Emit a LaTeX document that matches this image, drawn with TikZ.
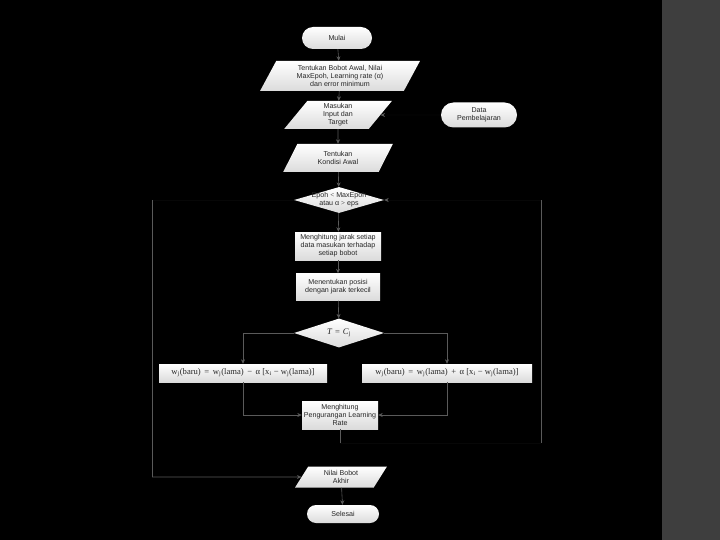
\documentclass[tikz,border=0pt]{standalone}
\usepackage{fontspec}
\setmainfont{Liberation Sans}
\newfontfamily\serifm{Liberation Serif}
\usetikzlibrary{shapes.geometric,shapes.misc,arrows.meta}
\definecolor{linegray}{HTML}{5A5A5A}
\definecolor{hidegray}{HTML}{070707}
\definecolor{stripgray}{HTML}{3E3E3E}
\begin{document}
\begin{tikzpicture}[x=1pt,y=-1pt,
  box/.style={draw=none, top color=white, bottom color=black!14, text=black!85,
    font=\fontsize{7.1}{7.9}\selectfont, align=center, inner sep=1pt},
  term/.style={box, rounded rectangle},
  rectbox/.style={box, rectangle},
  iobox/.style={box, trapezium, trapezium left angle=64, trapezium right angle=116,
    trapezium stretches=true},
  decbox/.style={box, diamond, inner sep=0pt},
  dtext/.style={font=\fontsize{7.1}{7.9}\selectfont, text=black!85, align=center, inner sep=0pt},
  formula/.style={font=\serifm\fontsize{8.6}{9}\selectfont},
  conn/.style={draw=linegray, line width=0.6pt},
  hid/.style={draw=hidegray, line width=0.6pt},
  tip/.style={-{Stealth[length=4.5pt,width=4pt,color=linegray]}}
]
\useasboundingbox (0,0) rectangle (720,540);
\fill[black] (0,0) rectangle (662,540);
\fill[stripgray] (662,0) rectangle (720,540);

% nodes
\node[term, minimum width=72pt, minimum height=22pt] (mulai) at (337,38) {Mulai};
\node[iobox, minimum width=160pt, minimum height=30pt] (bobot) at (340,76)
  {Tentukan Bobot Awal, Nilai\\MaxEpoh, Learning rate (α)\\dan error minimum};
\node[iobox, minimum width=108pt, minimum height=28pt] (masukan) at (338,115)
  {Masukan\\Input dan\\Target};
\node[term, minimum width=78pt, minimum height=25pt] (data) at (479,115)
  {Data\\Pembelajaran};
\node[iobox, minimum width=110pt, minimum height=28pt] (kondisi) at (338,158)
  {Tentukan\\Kondisi Awal};
\node[decbox, minimum width=90pt, minimum height=26pt] (cek) at (339,200) {};
\node[dtext] (cektxt) at (cek) {Epoh {\serifm<} MaxEpoh\\atau α {\serifm>} eps};
\node[rectbox, minimum width=86pt, minimum height=28pt] (jarak) at (338,246)
  {Menghitung jarak setiap\\data masukan terhadap\\setiap bobot};
\node[rectbox, minimum width=84pt, minimum height=27pt] (posisi) at (338,287)
  {Menentukan posisi\\dengan jarak terkecil};
\node[decbox, minimum width=90pt, minimum height=29pt] (cond) at (339,333) {};
\node[dtext, formula] (condtxt) at (cond) {\textit{T}\,\,=\,\,\textit{C}\textsubscript{j}};
\node[rectbox, formula, minimum width=168pt, minimum height=18pt] (kiri) at (243,373)
  {w\textsubscript{j}(baru) \,=\, w\textsubscript{j}(lama) \,−\, α [x\textsubscript{i} − w\textsubscript{j}(lama)]};
\node[rectbox, formula, minimum width=170pt, minimum height=18pt] (kanan) at (447,373)
  {w\textsubscript{j}(baru) \,=\, w\textsubscript{j}(lama) \,+\, α [x\textsubscript{i} − w\textsubscript{j}(lama)]};
\node[rectbox, minimum width=76pt, minimum height=28pt] (kurang) at (340,415)
  {Menghitung\\Pengurangan Learning\\Rate};
\node[iobox, minimum width=92pt, minimum height=21pt] (akhir) at (341,477)
  {Nilai Bobot\\Akhir};
\node[term, minimum width=74pt, minimum height=18pt] (selesai) at (343,514) {Selesai};

\coordinate (lt) at (152,200);
\coordinate (lb) at (152,477);
\coordinate (rt) at (541,200);
\coordinate (rb) at (541,443);
\coordinate (kb) at (340,443);

% connectors
\draw[conn,tip] (mulai) -- (bobot);
\draw[conn,tip] (bobot) -- (masukan);
\draw[conn,tip] (masukan) -- (kondisi);
\draw[hid,tip] (data.west) -- (masukan.east);
\draw[conn,tip] (kondisi) -- (cek);
\draw[conn,tip] (cek) -- (jarak);
\draw[conn,tip] (jarak) -- (posisi);
\draw[conn,tip] (posisi) -- (cond);
\draw[conn,tip] (cond.west) -| (kiri.north);
\draw[conn,tip] (cond.east) -| (kanan.north);
\draw[conn,tip] (kiri.south) |- (kurang.west);
\draw[conn,tip] (kanan.south) |- (kurang.east);
% loop back to the decision
\draw[conn] (kurang.south) -- (kb);
\draw[hid] (kb) -- (rb);
\draw[conn] (rb) -- (rt);
\draw[hid,tip] (rt) -- (cek.east);
% exit to the final weights
\draw[hid] (cek.west) -- (lt);
\draw[conn] (lt) -- (lb);
\draw[conn,tip] (lb) -- (akhir.west);
\draw[conn,tip] (akhir) -- (selesai);
\end{tikzpicture}
\end{document}
